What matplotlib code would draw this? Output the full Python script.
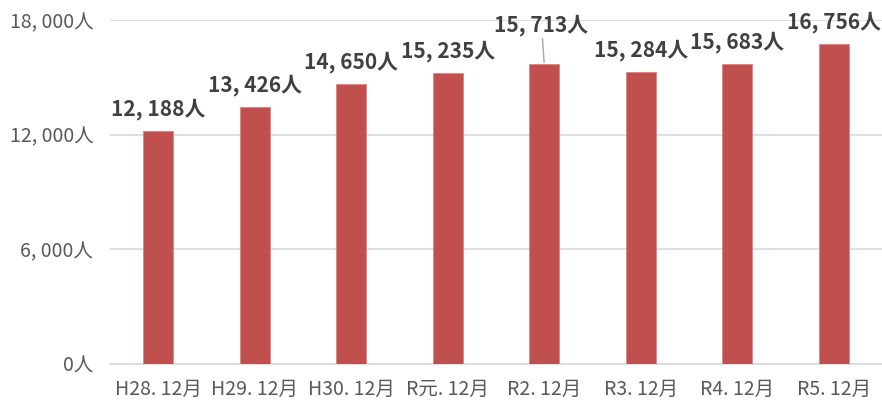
import matplotlib
matplotlib.use("Agg")
import matplotlib.pyplot as plt
import numpy as np

plt.rcParams["font.family"] = ["Noto Sans CJK JP", "DejaVu Sans"]

categories = ["H28. 12月", "H29. 12月", "H30. 12月", "R元. 12月",
              "R2. 12月", "R3. 12月", "R4. 12月", "R5. 12月"]
values = [12188, 13426, 14650, 15235, 15713, 15284, 15683, 16756]
yticks = [0, 6000, 12000, 18000]


def fmt(v):
    return f"{v:,}".replace(",", ", ") + "人"


fig = plt.figure(figsize=(8.82, 4.07), dpi=100)
ax = fig.add_axes([0.1247, 0.1057, 0.8753, 0.8452])

x = np.arange(len(categories))
ax.bar(x, values, width=0.31, color="#C0504D", edgecolor="#D98684",
       linewidth=0.6, zorder=3)

ax.set_xlim(-0.5, len(categories) - 0.5)
ax.set_ylim(0, 18000)
ax.set_yticks(yticks)
ax.set_yticklabels([fmt(v) for v in yticks])
ax.set_xticks(x)
ax.set_xticklabels(categories)
ax.tick_params(axis="both", length=0, labelsize=14, colors="#595959")
ax.tick_params(axis="y", pad=12)
ax.tick_params(axis="x", pad=11)
ax.grid(True, axis="y", color="#D9D9D9", linewidth=1.2, zorder=0)
for side in ["top", "right", "left"]:
    ax.spines[side].set_visible(False)
ax.spines["bottom"].set_color("#D9D9D9")
ax.spines["bottom"].set_linewidth(1.2)

for i, v in enumerate(values):
    if i == 4:
        # label lifted with a leader line
        ax.annotate(fmt(v), xy=(i, v), xytext=(-2, 20), textcoords="offset points",
                    ha="center", va="bottom", fontsize=15, fontweight="bold",
                    color="#404040", annotation_clip=False,
                    arrowprops=dict(arrowstyle="-", color="#A6A6A6", lw=1,
                                    shrinkA=0, shrinkB=1))
    else:
        ax.annotate(fmt(v), xy=(i, v), xytext=(0, 8), textcoords="offset points",
                    ha="center", va="bottom", fontsize=15, fontweight="bold",
                    color="#404040", annotation_clip=False)

fig.savefig("out.png", dpi=100)
